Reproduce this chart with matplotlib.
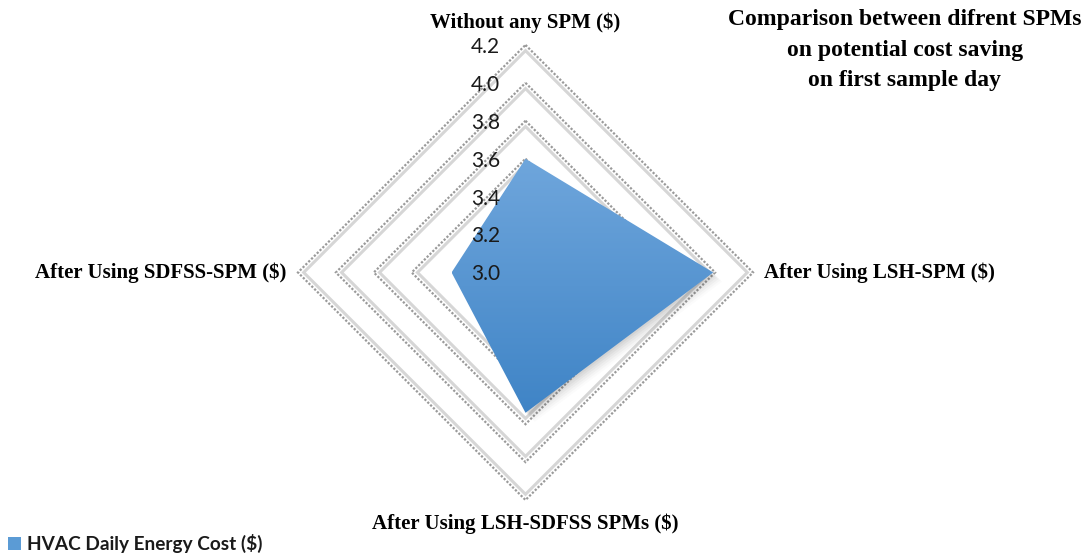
import matplotlib

matplotlib.use("Agg")
import matplotlib.pyplot as plt
import numpy as np
from matplotlib.colors import LinearSegmentedColormap
from matplotlib.patches import Polygon

# HVAC daily energy cost per scheduling approach, clockwise from the top spoke
categories = [
    "Without any SPM ($)",
    "After Using LSH-SPM ($)",
    "After Using LSH-SDFSS SPMs ($)",
    "After Using SDFSS-SPM ($)",
]
cost = [3.60, 3.99, 3.74, 3.39]
ticks = [3.0, 3.2, 3.4, 3.6, 3.8, 4.0, 4.2]
grid_levels = [3.6, 3.8, 4.0, 4.2]
r_min = 3.0

SERIF = "Liberation Serif"
angles = np.arange(len(categories)) * 2 * np.pi / len(categories)


def to_xy(values):
    r = np.asarray(values) - r_min
    return np.column_stack([r * np.sin(angles), r * np.cos(angles)])


fig = plt.figure(figsize=(10.89, 5.58), dpi=100)
ax = fig.add_axes([0.2388, 0.036, 0.4875, 0.9514])
ax.set_xlim(-1.4, 1.4)
ax.set_ylim(-1.4, 1.4)
ax.axis("off")

# diamond grid: solid light line just inside a dotted one
for lvl in grid_levels:
    inner = to_xy([lvl - 0.03] * 4)
    outer = to_xy([lvl] * 4)
    ax.add_patch(Polygon(inner, closed=True, fill=False, ec="#d6d6d6", lw=2.2, zorder=1))
    ax.add_patch(Polygon(outer, closed=True, fill=False, ec="#9a9a9a", lw=1.6,
                         ls=(0, (1, 0.8)), zorder=1))

# soft drop shadow under the area
pts = to_xy(cost)
for i, a in enumerate(np.linspace(0.06, 0.02, 6)):
    off = 0.008 * (i + 1)
    ax.add_patch(Polygon(pts + [off, -off], closed=True, fc="#404040", ec="none",
                         alpha=a, zorder=2))

# gradient filled area
poly = Polygon(pts, closed=True, fc="none", ec="none", zorder=3)
ax.add_patch(poly)
cmap = LinearSegmentedColormap.from_list("blues", ["#3f84c6", "#6fa6dc"])
grad = np.linspace(0, 1, 256).reshape(-1, 1)
img = ax.imshow(grad, cmap=cmap, origin="lower", aspect="auto", zorder=3,
                extent=[pts[:, 0].min(), pts[:, 0].max(), pts[:, 1].min(), pts[:, 1].max()])
img.set_clip_path(poly)

# radial tick labels along the top spoke
for t in ticks:
    ax.text(-0.135, t - r_min - 0.01, f"{t:.1f}", ha="right", va="center",
            fontsize=15, family="Lato", color="#1a1a1a", zorder=4)

# category labels
ax.text(0.0, 1.2 + 0.065, categories[0], ha="center", va="bottom",
        fontsize=15, family=SERIF, weight="bold")
ax.text(1.2 + 0.06, 0.0, categories[1], ha="left", va="center",
        fontsize=15, family=SERIF, weight="bold")
ax.text(0.0, -1.2 - 0.07, categories[2], ha="center", va="top",
        fontsize=15, family=SERIF, weight="bold")
ax.text(-1.2 - 0.06, 0.0, categories[3], ha="right", va="center",
        fontsize=15, family=SERIF, weight="bold")

fig.text(0.831, 0.984, "Comparison between difrent SPMs\non potential cost saving\non first sample day",
         ha="center", va="top", fontsize=17, family=SERIF, weight="bold", linespacing=1.6)

# legend
fig.patches.append(plt.Rectangle((8 / 1089, 1 - 550 / 558), 13 / 1089, 13 / 558,
                                 transform=fig.transFigure, fc="#5b9bd5", ec="none"))
fig.text(27 / 1089, 1 - 543 / 558, "HVAC Daily Energy Cost ($)", ha="left", va="center",
         fontsize=13.7, family="Lato", weight="bold", color="#1a1a1a")

fig.savefig("out.png", dpi=100)
